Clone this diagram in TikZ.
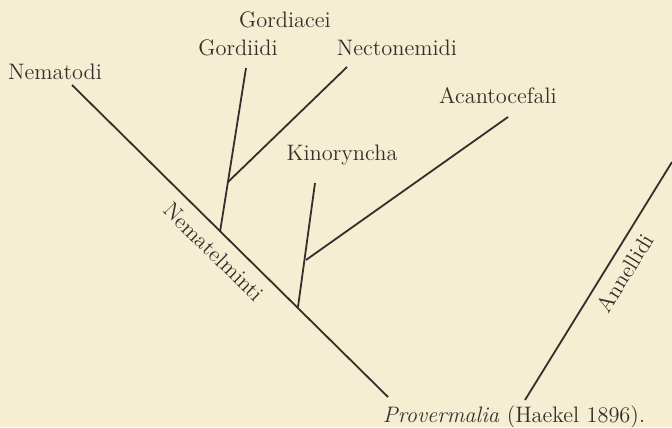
\documentclass[tikz,border=0pt]{standalone}
\usetikzlibrary{positioning}
\definecolor{paper}{RGB}{246,238,211}
\definecolor{ink}{RGB}{52,47,42}

\begin{document}
\begin{tikzpicture}[x=0.5pt,y=-0.5pt,
  branch/.style={draw=ink,line width=0.9pt},
  taxon/.style={font=\fontsize{11.2}{13}\selectfont,text=ink,inner sep=0pt},
]
% ---------- paper ----------
\fill[paper] (0,0) rectangle (672,427);
\useasboundingbox (0,0) rectangle (672,427);
% ---------- branch points ----------
\coordinate (nemtip) at (72,85);
\coordinate (root)   at (388,397);
\coordinate (gortip) at (246,68);
\coordinate (gorbase) at (220,232);
\coordinate (gorfork) at (228,182);
\coordinate (nectip) at (347,67);
\coordinate (kintip) at (315,183);
\coordinate (kinbase) at (298,307);
\coordinate (kinfork) at (306,260);
\coordinate (acatip) at (508,117);
\coordinate (annbase) at (525,400);
\coordinate (anntip) at (672,162);
% ---------- branches ----------
\draw[branch] (nemtip) -- (root);
\draw[branch] (gorbase) -- (gortip);
\draw[branch] (gorfork) -- (nectip);
\draw[branch] (kinbase) -- (kintip);
\draw[branch] (kinfork) -- (acatip);
\draw[branch] (annbase) -- (anntip);
% ---------- labels ----------
\node[taxon] (nematodi)     at (55,72)  {Nematodi};
\node[taxon] (gordiacei)    at (285,20) {Gordiacei};
\node[taxon] (gordiidi)     at (238,48) {Gordiidi};
\node[taxon] (nectonemidi)  at (397,48) {Nectonemidi};
\node[taxon] (kinoryncha)   at (342,155) {Kinoryncha};
\node[taxon] (acantocefali) at (498,96) {Acantocefali};
\node[taxon,rotate=-44.6] (nematelminti) at (214,252) {Nematelminti};
\node[taxon,rotate=58.3]  (annellidi)    at (625,273) {Annellidi};
\node[taxon] (provermalia)  at (514,417) {\textit{Provermalia} (Haekel 1896).};
\end{tikzpicture}
\end{document}
